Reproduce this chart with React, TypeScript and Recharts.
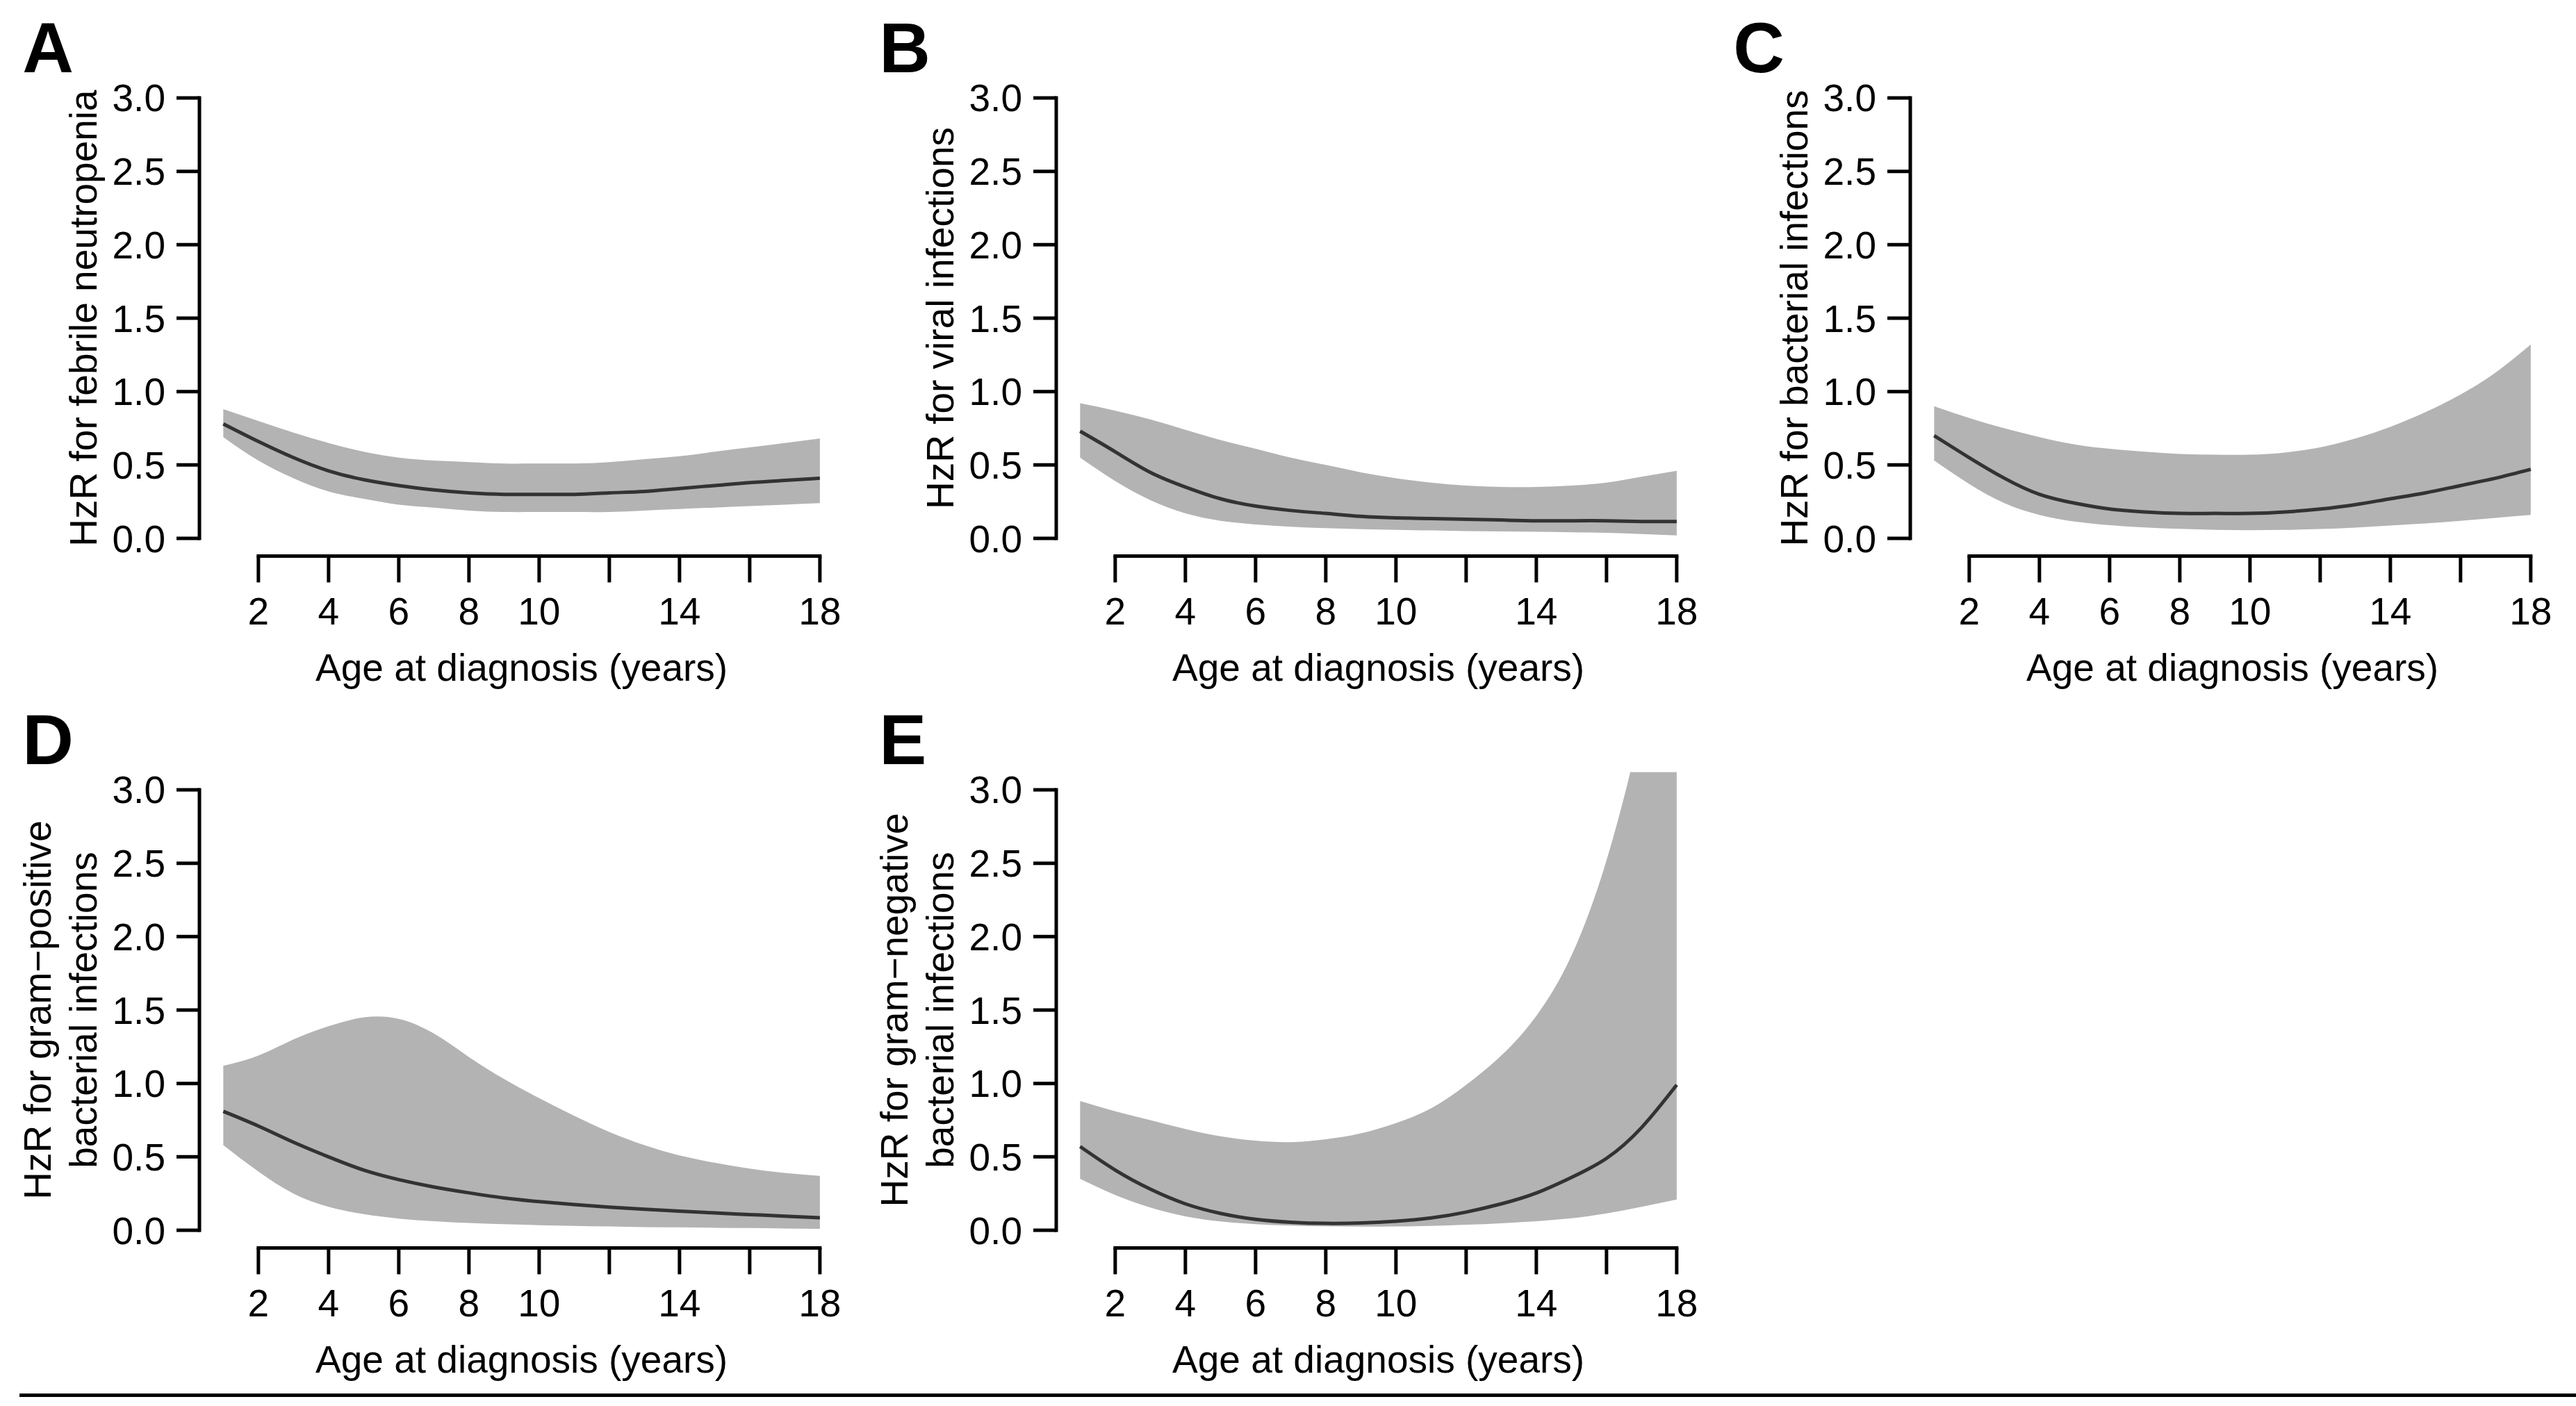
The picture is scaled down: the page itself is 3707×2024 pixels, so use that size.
import React from "react";
import {
  ComposedChart,
  Area,
  Line,
  XAxis,
  YAxis,
  ReferenceLine,
} from "recharts";

const FONT = '"Liberation Sans", Arial, Helvetica, sans-serif';

// age at diagnosis (years)
const ages = [1, 2, 3, 4, 5, 6, 7, 8, 9, 10, 11, 12, 13, 14, 15, 16, 17, 18];
const xTicks = [2, 4, 6, 8, 10, 12, 14, 16, 18];
const xTickLabels = ["2", "4", "6", "8", "10", "", "14", "", "18"];
const yTicks = [0, 0.5, 1, 1.5, 2, 2.5, 3];

// A: febrile neutropenia
const febrileHzR = [0.78, 0.66, 0.55, 0.46, 0.4, 0.36, 0.33, 0.31, 0.3, 0.3, 0.3, 0.31, 0.32, 0.34, 0.36, 0.38, 0.395, 0.41];
const febrileLower = [0.69, 0.53, 0.41, 0.32, 0.27, 0.23, 0.21, 0.19, 0.18, 0.18, 0.18, 0.18, 0.19, 0.2, 0.21, 0.22, 0.23, 0.24];
const febrileUpper = [0.88, 0.8, 0.72, 0.65, 0.59, 0.55, 0.53, 0.52, 0.51, 0.51, 0.51, 0.52, 0.54, 0.56, 0.59, 0.62, 0.65, 0.68];

// B: viral infections
const viralHzR = [0.73, 0.59, 0.45, 0.35, 0.27, 0.22, 0.19, 0.17, 0.15, 0.14, 0.135, 0.13, 0.125, 0.12, 0.12, 0.12, 0.115, 0.115];
const viralLower = [0.55, 0.39, 0.26, 0.17, 0.12, 0.095, 0.08, 0.07, 0.063, 0.058, 0.054, 0.05, 0.048, 0.045, 0.042, 0.038, 0.03, 0.02];
const viralUpper = [0.92, 0.87, 0.81, 0.74, 0.67, 0.61, 0.55, 0.5, 0.45, 0.41, 0.38, 0.36, 0.35, 0.35, 0.36, 0.38, 0.42, 0.46];

// C: bacterial infections
const bacterialHzR = [0.7, 0.55, 0.41, 0.3, 0.24, 0.2, 0.18, 0.17, 0.17, 0.17, 0.18, 0.2, 0.23, 0.27, 0.31, 0.36, 0.41, 0.47];
const bacterialLower = [0.53, 0.37, 0.24, 0.16, 0.115, 0.09, 0.075, 0.065, 0.058, 0.056, 0.058, 0.064, 0.074, 0.088, 0.102, 0.12, 0.14, 0.16];
const bacterialUpper = [0.9, 0.82, 0.75, 0.69, 0.64, 0.61, 0.59, 0.575, 0.57, 0.57, 0.585, 0.62, 0.68, 0.76, 0.86, 0.98, 1.13, 1.32];

// D: gram-positive bacterial infections
const gramPosHzR = [0.81, 0.71, 0.6, 0.5, 0.41, 0.345, 0.295, 0.255, 0.22, 0.195, 0.175, 0.158, 0.143, 0.13, 0.118, 0.107, 0.096, 0.085];
const gramPosLower = [0.58, 0.4, 0.25, 0.16, 0.11, 0.08, 0.062, 0.05, 0.042, 0.035, 0.03, 0.026, 0.022, 0.02, 0.017, 0.015, 0.012, 0.01];
const gramPosUpper = [1.12, 1.19, 1.3, 1.39, 1.45, 1.44, 1.34, 1.18, 1.03, 0.9, 0.78, 0.67, 0.58, 0.51, 0.46, 0.42, 0.39, 0.37];

// E: gram-negative bacterial infections
const gramNegHzR = [0.57, 0.41, 0.28, 0.18, 0.115, 0.075, 0.055, 0.047, 0.05, 0.062, 0.084, 0.124, 0.18, 0.254, 0.36, 0.49, 0.7, 0.99];
const gramNegLower = [0.35, 0.24, 0.155, 0.095, 0.06, 0.042, 0.032, 0.027, 0.025, 0.026, 0.03, 0.038, 0.048, 0.062, 0.082, 0.115, 0.16, 0.21];
const gramNegUpper = [0.88, 0.81, 0.75, 0.69, 0.64, 0.61, 0.6, 0.62, 0.66, 0.73, 0.83, 0.99, 1.19, 1.46, 1.87, 2.52, 3.45, 4.6];

const panels = [
  { letter: "A", title: ["HzR for febrile neutropenia"], hzr: febrileHzR, lower: febrileLower, upper: febrileUpper, left: 287.3, top: 0 },
  { letter: "B", title: ["HzR for viral infections"], hzr: viralHzR, lower: viralLower, upper: viralUpper, left: 1520.3, top: 0 },
  { letter: "C", title: ["HzR for bacterial infections"], hzr: bacterialHzR, lower: bacterialLower, upper: bacterialUpper, left: 2749.3, top: 0 },
  { letter: "D", title: ["HzR for gram\u2212positive", "bacterial infections"], hzr: gramPosHzR, lower: gramPosLower, upper: gramPosUpper, left: 287.3, top: 996 },
  { letter: "E", title: ["HzR for gram\u2212negative", "bacterial infections"], hzr: gramNegHzR, lower: gramNegLower, upper: gramNegUpper, left: 1520.3, top: 996 },
];

const Y_AXIS_W = 288;
const CHART_W = 1235;
const CHART_H = 1000;
const MARGIN = { top: 115.6, right: 19.8, bottom: 0, left: 0 };
const X_AXIS_H = 199.6;

function Panel({ p }: { p: any }) {
  const data = ages.map((age, i) => ({
    age,
    hzr: p.hzr[i],
    band: [p.lower[i], p.upper[i]],
  }));

  const yTitle = (props: any) => {
    const vb = props.viewBox || {};
    const cy = (vb.y ?? MARGIN.top) + (vb.height ?? 684.8) / 2;
    const lines: string[] = p.title;
    return (
      <g>
        {lines.map((t, i) => {
          const x = 140 - (lines.length - 1 - i) * 66;
          return (
            <text
              key={i}
              x={x}
              y={cy}
              transform={`rotate(-90, ${x}, ${cy})`}
              textAnchor="middle"
              fontSize={55}
              fontFamily={FONT}
              fill="#000"
            >
              {t}
            </text>
          );
        })}
      </g>
    );
  };

  const xTitle = (props: any) => {
    const vb = props.viewBox || {};
    const cx = (vb.x ?? Y_AXIS_W) + (vb.width ?? 927) / 2;
    const y = (vb.y ?? 800.4) + 180;
    return (
      <text x={cx} y={y} textAnchor="middle" fontSize={55} fontFamily={FONT} fill="#000">
        Age at diagnosis (years)
      </text>
    );
  };

  return (
    <div
      style={{
        position: "absolute",
        left: p.left - Y_AXIS_W,
        top: p.top,
        width: CHART_W,
        height: CHART_H,
      }}
    >
      <ComposedChart width={CHART_W} height={CHART_H} data={data} margin={MARGIN}>
        <XAxis
          dataKey="age"
          type="number"
          domain={[0.32, 18.68]}
          allowDataOverflow
          ticks={xTicks}
          interval={0}
          tickFormatter={(v: number) => xTickLabels[xTicks.indexOf(v)] ?? ""}
          axisLine={false}
          tickLine={{ stroke: "#000", strokeWidth: 5 }}
          tickSize={38}
          tickMargin={22}
          height={X_AXIS_H}
          tick={{ fill: "#000", fontSize: 55, fontFamily: FONT }}
          label={xTitle}
        />
        <YAxis
          type="number"
          domain={[-0.12, 3.12]}
          allowDataOverflow
          ticks={yTicks}
          interval={0}
          tickFormatter={(v: number) => v.toFixed(1)}
          axisLine={false}
          tickLine={{ stroke: "#000", strokeWidth: 5 }}
          tickSize={33}
          tickMargin={16}
          width={Y_AXIS_W}
          tick={{ fill: "#000", fontSize: 55, fontFamily: FONT }}
          label={yTitle}
        />
        <Area
          dataKey="band"
          type="natural"
          stroke="none"
          fill="#b3b3b3"
          fillOpacity={1}
          isAnimationActive={false}
          dot={false}
          activeDot={false}
        />
        <Line
          dataKey="hzr"
          type="natural"
          stroke="#333333"
          strokeWidth={5}
          dot={false}
          activeDot={false}
          isAnimationActive={false}
        />
        <ReferenceLine
          segment={[{ x: 0.32, y: 0 }, { x: 0.32, y: 3 }]}
          stroke="#000"
          strokeWidth={5}
          strokeLinecap="square"
          ifOverflow="visible"
        />
        <ReferenceLine
          segment={[{ x: 2, y: -0.12 }, { x: 18, y: -0.12 }]}
          stroke="#000"
          strokeWidth={5}
          strokeLinecap="square"
          ifOverflow="visible"
        />
      </ComposedChart>
    </div>
  );
}

export default function App() {
  return (
    <div
      style={{
        position: "absolute",
        left: 0,
        top: 0,
        width: 3707,
        height: 2024,
        background: "#fff",
        fontFamily: FONT,
      }}
    >
      {panels.map((p) => (
        <Panel key={p.letter} p={p} />
      ))}
      <svg
        width={3707}
        height={2024}
        style={{ position: "absolute", left: 0, top: 0, pointerEvents: "none" }}
      >
        {panels.map((p) => (
          <text
            key={p.letter}
            x={p.left - 255}
            y={p.top + 104}
            fontSize={102}
            fontWeight="bold"
            fontFamily={FONT}
            fill="#000"
          >
            {p.letter}
          </text>
        ))}
        <line x1={28} y1={2008.5} x2={3707} y2={2008.5} stroke="#000" strokeWidth={5} />
      </svg>
    </div>
  );
}
